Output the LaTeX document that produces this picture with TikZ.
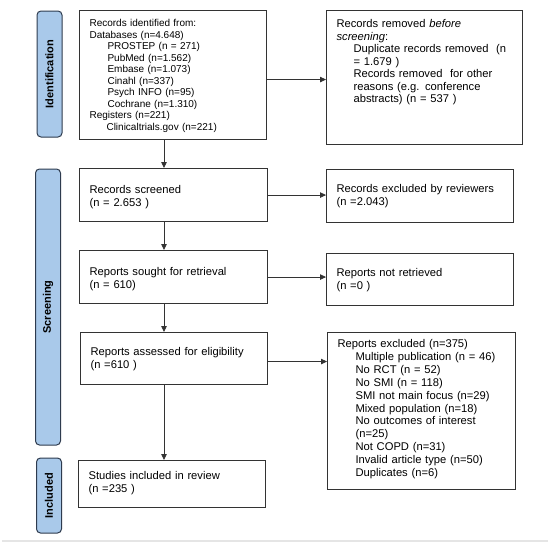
\documentclass[tikz,border=0pt]{standalone}
\usepackage{fontspec}
\setmainfont{Liberation Sans}
\usetikzlibrary{arrows.meta}
\definecolor{tabblue}{HTML}{A9C9EA}
\definecolor{tabedge}{HTML}{2E3B4E}
\definecolor{boxedge}{HTML}{333333}
\tikzset{
	box/.style={draw=boxedge, line width=1.1pt, anchor=north west, inner xsep=10pt, inner ysep=0pt, align=left, font=\fontsize{11.2}{12.9}\selectfont},
	stage/.style={draw=tabedge, fill=tabblue, line width=1pt, rounded corners=4pt, rotate=90, minimum height=25pt, inner sep=0pt, font=\bfseries\fontsize{11}{13}\selectfont},
	link/.style={->, draw=boxedge, line width=0.8pt}
}
\newcommand{\ind}{\hspace*{18pt}}

\begin{document}
\begin{tikzpicture}[x=1pt, y=-1pt, >={Triangle[length=6pt,width=5.5pt]}]
	\useasboundingbox (0,0) rectangle (550,546);
	% stage tabs
	\node[stage, minimum width=126pt] (tabid) at (49.5,74) {Identification};
	\node[stage, minimum width=276pt] (tabscr) at (48,307) {Screening};
	\node[stage, minimum width=75pt] (tabinc) at (49,495.5) {Included};
	% left column
	\node[box, text width=167pt, text height=16pt, text depth=113pt, font=\fontsize{10}{11.5}\selectfont] (ident) at (79,10) {Records identified from:\\ Databases (n=4.648)\\ \ind PROSTEP (n = 271)\\ \ind PubMed (n=1.562)\\ \ind Embase (n=1.073)\\ \ind Cinahl (n=337)\\ \ind Psych INFO (n=95)\\ \ind Cochrane (n=1.310)\\ Registers (n=221)\\ \hspace*{17pt}Clinicaltrials.gov (n=221)};
	\node[box, text width=168pt, text height=25pt, text depth=28pt] (screened) at (79,168) {Records screened\\ (n = 2.653 )};
	\node[box, text width=168pt, text height=25pt, text depth=28pt] (sought) at (79,250) {Reports sought for retrieval\\ (n = 610)};
	\node[box, text width=167pt, text height=23pt, text depth=29pt] (assessed) at (80,332) {Reports assessed for eligibility\\ (n =610 )};
	\node[box, text width=167pt, text height=19pt, text depth=28pt] (included) at (78,460) {Studies included in review\\ (n =235 )};
	% right column
	\node[box, text width=176pt, text height=17pt, text depth=117pt, font=\fontsize{11.2}{12.5}\selectfont] (removed) at (326,10) {Records removed \textit{before}\\ \textit{screening}:\\ \hspace*{17pt}Duplicate records removed\ \ (n\\ \hspace*{17pt}= 1.679 )\\ \hspace*{17pt}Records removed\ \ for other\\ \hspace*{17pt}reasons (e.g. conference\\ \hspace*{17pt}abstracts) (n = 537 )};
	\node[box, text width=167pt, text height=23pt, text depth=30pt] (excluded) at (326,169) {Records excluded by reviewers\\ (n =2.043)};
	\node[box, text width=167pt, text height=23pt, text depth=29pt] (notret) at (326,253) {Reports not retrieved\\ (n =0 )};
	\node[box, text width=168pt, text height=15pt, text depth=142pt] (repexcl) at (327,332) {Reports excluded (n=375)\\ \ind Multiple publication (n = 46)\\ \ind No RCT (n = 52)\\ \ind No SMI (n = 118)\\ \ind SMI not main focus (n=29)\\ \ind Mixed population (n=18)\\ \ind No outcomes of interest\\ \ind (n=25)\\ \ind Not COPD (n=31)\\ \ind Invalid article type (n=50)\\ \ind Duplicates (n=6)};
	% connectors
	\coordinate (spine) at (164,0);
	\draw[link] (ident.south -| spine) -- (screened.north -| spine);
	\draw[link] (screened.south -| spine) -- (sought.north -| spine);
	\draw[link] (sought.south -| spine) -- (assessed.north -| spine);
	\draw[link] (assessed.south -| spine) -- (included.north -| spine);
	\draw[link] ([yshift=-4.5pt]ident.east) -- ([yshift=-4.5pt]ident.east -| removed.west);
	\draw[link] (screened.east) -- (screened.east -| excluded.west);
	\draw[link] (sought.east) -- (sought.east -| notret.west);
	\draw[link] ([yshift=-3pt]assessed.east) -- ([yshift=-3pt]assessed.east -| repexcl.west);
	% page rule
	\draw[black!10, line width=2pt] (2,541) -- (548,541);
\end{tikzpicture}
\end{document}
